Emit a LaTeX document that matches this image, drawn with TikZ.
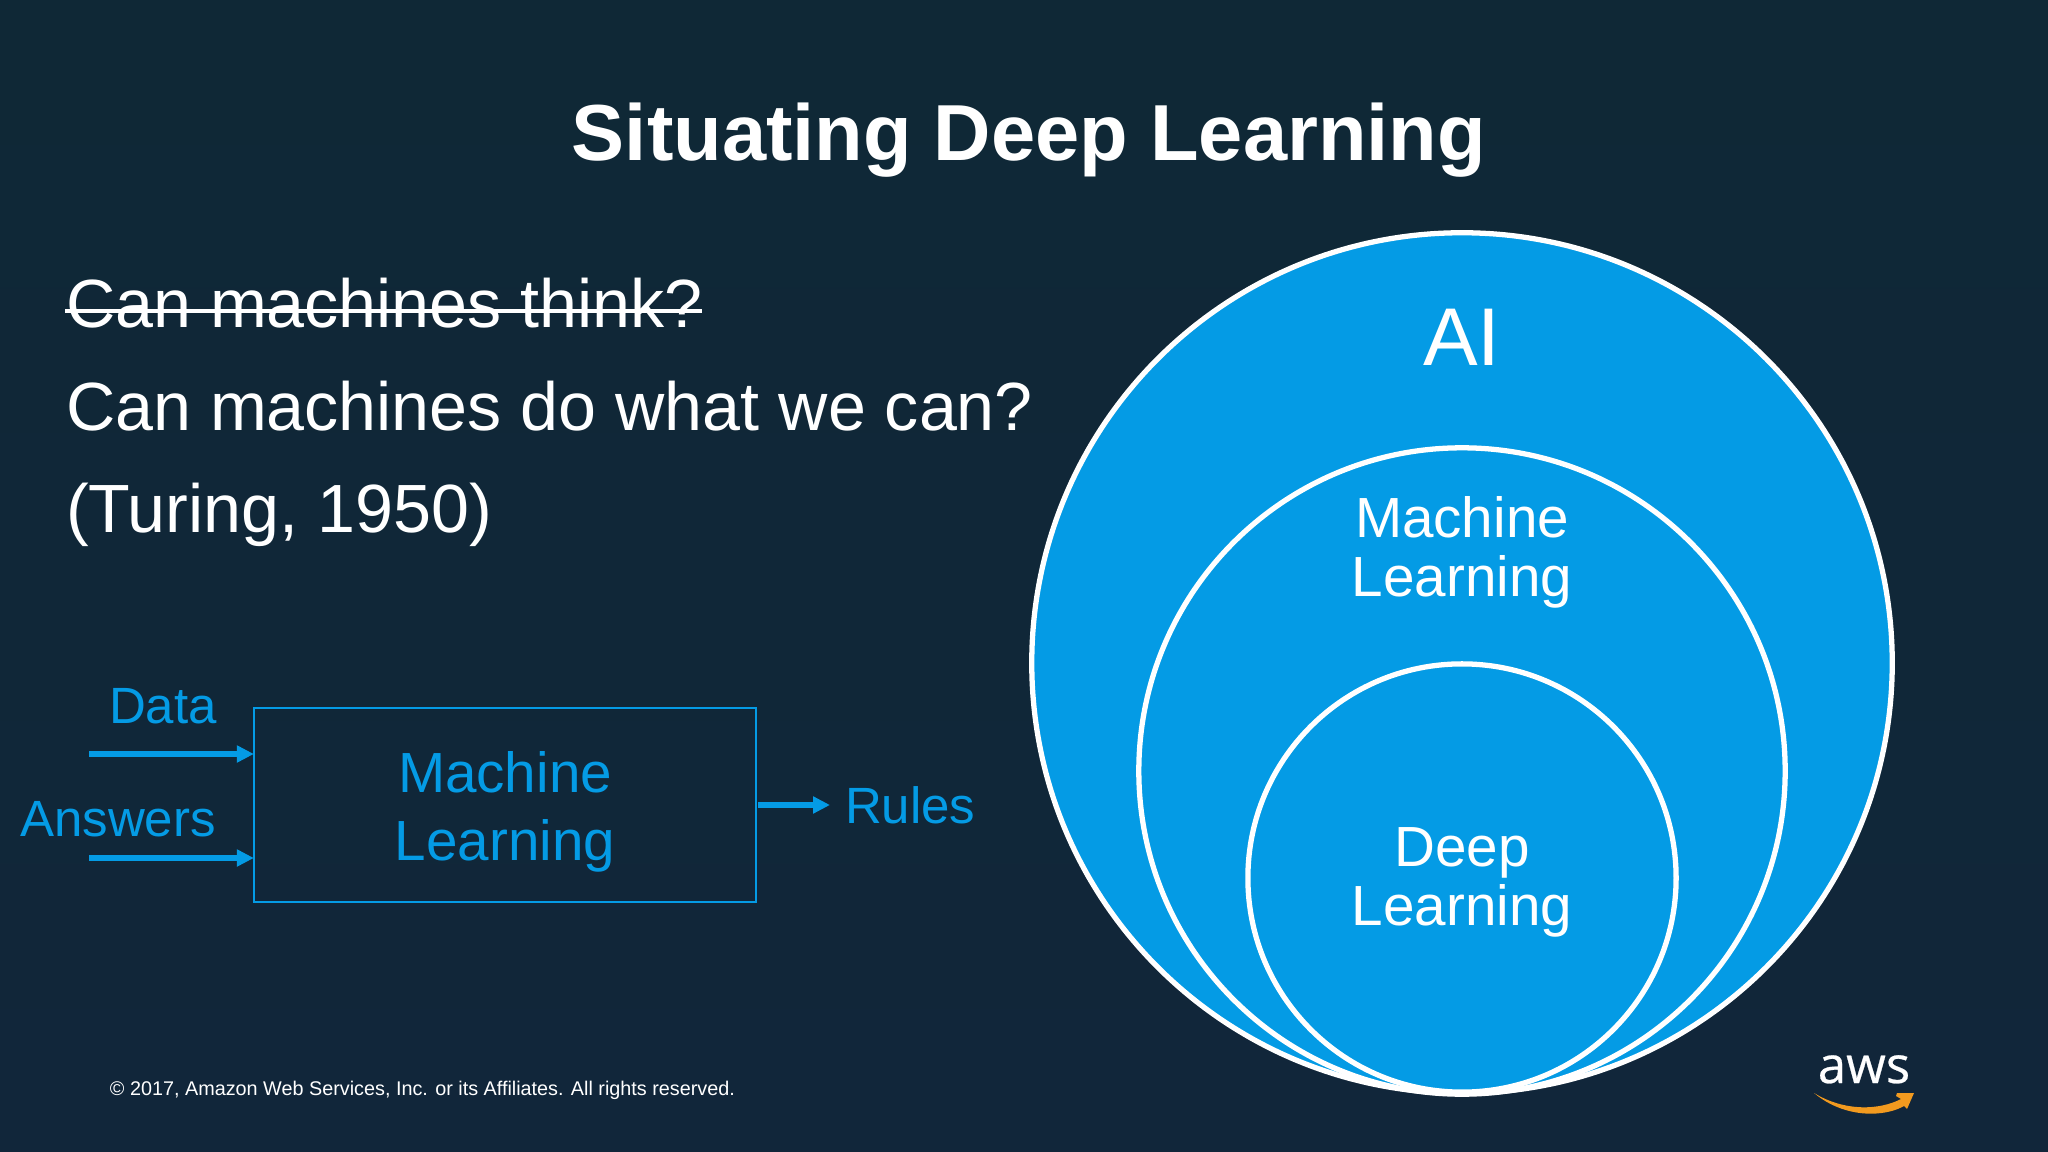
\documentclass[tikz,border=0pt]{standalone}
\usepackage{fontspec}
\setmainfont{Liberation Sans}
\newfontfamily\logofont[FakeBold=0.5]{Open Sans}
\usetikzlibrary{arrows.meta, positioning, calc}
\definecolor{slidetop}{HTML}{0F2836}
\definecolor{slidebottom}{HTML}{11263A}
\definecolor{awsblue}{HTML}{049BE5}
\definecolor{awsorange}{HTML}{F29A1F}
\newcommand{\sizedfont}[2]{\fontsize{#1}{#2}\selectfont}

\begin{document}
\begin{tikzpicture}[
    x=0.01cm, y=-0.01cm, >=Triangle,
    every node/.style={inner sep=0pt, outer sep=0pt, align=center, text=white},
    ring/.style={circle, draw=white, line width=1.5pt, fill=awsblue},
    question/.style={anchor=base west, font=\sizedfont{19.4}{23}},
    bluetext/.style={anchor=base, text=awsblue, font=\sizedfont{14.5}{17}},
    flow/.style={->, draw=awsblue, line width=1.7pt, arrows={-Triangle[length=4.8pt, width=4.6pt]}}
]
\useasboundingbox (0,0) rectangle (2048,1152);
\shade[top color=slidetop, bottom color=slidebottom] (0,0) rectangle (2048,1152);

% Title and questions
\node (title) [anchor=base, font=\bfseries\sizedfont{22.6}{27}] at (1029,161) {Situating Deep Learning};
\node (think) [question] at (66,328) {Can machines think?};
\node (can) [question] at (66,431) {Can machines do what we can?};
\node (turing) [question] at (66,533) {(Turing, 1950)};
\coordinate (strikeA) at (65,311);
\coordinate (strikeB) at (702,311);
\draw[white, line width=1pt] (strikeA) -- (strikeB);

% Nested circles
\node (ai) [ring, minimum size=8.6cm] at (1462,663) {};
\node (ml) [ring, minimum size=6.46cm] at (1462,771) {};
\node (dl) [ring, minimum size=4.28cm] at (1462,878) {};
\node (ailabel) [anchor=base, font=\sizedfont{23.3}{28}] at (1462,366) {AI};
\node (mllabel) [font=\sizedfont{16.1}{16.8}] at (1462,552) {Machine\\Learning};
\node (dllabel) [font=\sizedfont{16.1}{16.8}] at (1462,882) {Deep\\Learning};

% Machine learning box
\node (mlbox) [draw=awsblue, line width=0.6pt, minimum width=5.02cm, minimum height=1.94cm] at (505,805) {};
\node (mltext) [text=awsblue, font=\sizedfont{16.1}{19.4}] at (505,812) {Machine\\Learning};
\node (data) [bluetext] at (163,723) {Data};
\node (answers) [bluetext] at (118,836) {Answers};
\node (rules) [bluetext, anchor=base west] at (845,823) {Rules};
\coordinate (dataIn) at (89,754);
\coordinate (answersIn) at (89,858);
\coordinate (rulesOut) at (830,805);
\draw[flow] (dataIn) -- (dataIn -| mlbox.west);
\draw[flow] (answersIn) -- (answersIn -| mlbox.west);
\draw[flow] ([xshift=0.5pt]mlbox.east) -- (rulesOut);

% Footer and logo
\node (copy) [anchor=base west, font=\sizedfont{5.63}{7}] at (110,1095) {© 2017, Amazon Web Services, Inc. or its Affiliates. All rights reserved.};
\node (aws) [anchor=base, font=\logofont\sizedfont{14.5}{17}] at (1864,1083) {aws};
\fill[awsorange] (1814,1093) .. controls (1845,1112) and (1880,1110) .. (1901,1099)
    -- (1896,1096) -- (1897,1093) -- (1914,1093) -- (1907,1109) -- (1904,1106)
    .. controls (1885,1117) and (1845,1119) .. (1814,1093) -- cycle;
\end{tikzpicture}
\end{document}
